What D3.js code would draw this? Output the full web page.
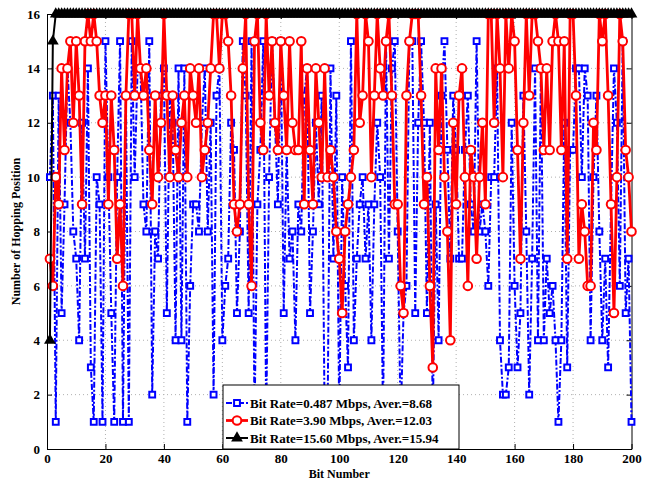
<!DOCTYPE html>
<html>
<head>
<meta charset="utf-8">
<script src="https://cdn.jsdelivr.net/npm/d3@7"></script>
<style>
	body { margin: 0; background: #fff; }
	text { font-family: "Liberation Serif", "Times New Roman", serif; font-weight: bold; }
</style>
</head>
<body>
<svg class="chart"></svg>
<script>

// hopping position per bit, 0.487 Mbps
var lowRate = [
	10, 13, 1, 13, 5, 9, 14, 12, 8, 7, 4, 12, 7, 14, 3, 1,
	10, 9, 1, 15, 10, 5, 1, 10, 15, 1, 13, 1, 15, 10, 14, 14, 9,
	8, 15, 2, 8, 7, 13, 14, 5, 13, 12, 4, 14, 4, 14, 1, 6, 9,
	9, 8, 12, 14, 8, 12, 2, 13, 14, 4, 6, 7, 12, 11, 5, 8, 15,
	13, 5, 15, 1, 9, 11, 15, 1, 10, 15, 12, 9, 15, 5, 11, 7, 8,
	4, 9, 8, 13, 14, 5, 8, 12, 9, 13, 1, 1, 14, 7, 13, 1, 10,
	6, 3, 15, 4, 7, 9, 10, 7, 9, 4, 9, 12, 10, 1, 15, 7, 14,
	15, 8, 1, 5, 6, 15, 15, 5, 12, 15, 12, 5, 12, 1, 9, 4, 13,
	15, 11, 7, 13, 11, 7, 7, 11, 13, 9, 8, 15, 8, 9, 8, 6, 10,
	10, 14, 4, 2, 2, 3, 12, 6, 3, 5, 13, 8, 2, 7, 14, 4, 14,
	4, 7, 5, 6, 4, 1, 4, 12, 3, 11, 11, 14, 14, 10, 14, 13, 4,
	10, 13, 8, 4, 7, 3, 9, 14, 12, 6, 15, 5, 7, 1
];

// 3.90 Mbps
var midRate = [
	7, 6, 10, 9, 14, 11, 14, 15, 12, 15, 13, 9, 15, 16, 15, 16,
	15, 13, 12, 13, 9, 13, 11, 7, 9, 6, 13, 16, 16, 13, 16, 14, 13,
	14, 11, 9, 13, 10, 12, 16, 13, 10, 13, 11, 10, 12, 13, 10, 14, 13,
	12, 14, 10, 11, 12, 14, 16, 16, 14, 16, 16, 15, 13, 9, 8, 9, 14,
	16, 9, 6, 15, 16, 12, 11, 16, 13, 15, 12, 11, 15, 13, 11, 15, 12,
	11, 11, 15, 9, 14, 11, 9, 14, 12, 10, 14, 10, 11, 10, 8, 7, 5,
	8, 9, 10, 11, 16, 12, 13, 16, 15, 10, 13, 16, 14, 13, 15, 16, 13,
	9, 9, 6, 5, 13, 15, 16, 16, 16, 13, 9, 10, 6, 3, 14, 11, 14,
	10, 8, 4, 12, 9, 13, 14, 10, 6, 11, 10, 7, 10, 12, 9, 16, 16,
	12, 16, 14, 10, 16, 14, 16, 15, 11, 7, 12, 16, 13, 16, 16, 15, 14,
	11, 14, 11, 15, 16, 15, 11, 15, 7, 16, 16, 13, 7, 9, 8, 6, 6,
	12, 11, 16, 15, 16, 13, 9, 5, 10, 16, 15, 11, 10, 8
];

// 15.60 Mbps
var highRate = [
	4, 15, 16, 16, 16, 16, 16, 16, 16, 16, 16, 16, 16, 16, 16, 16, 16, 16, 16, 16,
	16, 16, 16, 16, 16, 16, 16, 16, 16, 16, 16, 16, 16, 16, 16, 16, 16, 16, 16, 16,
	16, 16, 16, 16, 16, 16, 16, 16, 16, 16, 16, 16, 16, 16, 16, 16, 16, 16, 16, 16,
	16, 16, 16, 16, 16, 16, 16, 16, 16, 16, 16, 16, 16, 16, 16, 16, 16, 16, 16, 16,
	16, 16, 16, 16, 16, 16, 16, 16, 16, 16, 16, 16, 16, 16, 16, 16, 16, 16, 16, 16,
	16, 16, 16, 16, 16, 16, 16, 16, 16, 16, 16, 16, 16, 16, 16, 16, 16, 16, 16, 16,
	16, 16, 16, 16, 16, 16, 16, 16, 16, 16, 16, 16, 16, 16, 16, 16, 16, 16, 16, 16,
	16, 16, 16, 16, 16, 16, 16, 16, 16, 16, 16, 16, 16, 16, 16, 16, 16, 16, 16, 16,
	16, 16, 16, 16, 16, 16, 16, 16, 16, 16, 16, 16, 16, 16, 16, 16, 16, 16, 16, 16,
	16, 16, 16, 16, 16, 16, 16, 16, 16, 16, 16, 16, 16, 16, 16, 16, 16, 16, 16, 16
];

var xTicks = [0, 20, 40, 60, 80, 100, 120, 140, 160, 180, 200];
var yTicks = [0, 2, 4, 6, 8, 10, 12, 14, 16];
var legendLabels = [
	"Bit Rate=0.487 Mbps, Aver.=8.68",
	"Bit Rate=3.90 Mbps, Aver.=12.03",
	"Bit Rate=15.60 Mbps, Aver.=15.94"
];

var width = 656;
var height = 479;
var plotLeft = 47, plotRight = 631.5, plotTop = 14, plotBottom = 449;

var svg = d3.select('.chart').attr("width", width).attr("height", height);

var x = d3.scaleLinear().domain([0, 200]).range([plotLeft, plotRight]);
var y = d3.scaleLinear().domain([0, 16]).range([plotBottom, plotTop]);

function toPoints(values) {
	return values.map(function(v, i) { return [i + 1, v]; });
}

// dotted grid
svg.append("g").selectAll("line")
	.data(xTicks.slice(1, -1))
	.enter().append("line")
	.attr("x1", function(d) { return x(d); }).attr("x2", function(d) { return x(d); })
	.attr("y1", plotTop).attr("y2", plotBottom)
	.attr("stroke", "#b0b0b0").attr("stroke-dasharray", "1,3");

svg.append("g").selectAll("line")
	.data(yTicks.slice(1, -1))
	.enter().append("line")
	.attr("y1", function(d) { return y(d); }).attr("y2", function(d) { return y(d); })
	.attr("x1", plotLeft).attr("x2", plotRight)
	.attr("stroke", "#b0b0b0").attr("stroke-dasharray", "1,3");

// axes, MATLAB style ticks inside
function buildAxes() {
	var bx = svg.append("g").attr("transform", "translate(0," + plotBottom + ")")
		.call(d3.axisBottom(x).tickValues(xTicks).tickSizeInner(-5).tickSizeOuter(0).tickPadding(5));
	var tx = svg.append("g").attr("transform", "translate(0," + plotTop + ")")
		.call(d3.axisTop(x).tickValues(xTicks).tickSizeInner(-5).tickSizeOuter(0).tickFormat(""));
	var ly = svg.append("g").attr("transform", "translate(" + plotLeft + ",0)")
		.call(d3.axisLeft(y).tickValues(yTicks).tickSizeInner(-5).tickSizeOuter(0).tickPadding(7));
	var ry = svg.append("g").attr("transform", "translate(" + plotRight + ",0)")
		.call(d3.axisRight(y).tickValues(yTicks).tickSizeInner(-5).tickSizeOuter(0).tickFormat(""));

	[bx, tx, ly, ry].forEach(function(g) {
		g.selectAll("path").attr("stroke", "#000").attr("stroke-width", 1);
		g.selectAll("line").attr("stroke", "#000");
		g.selectAll("text").attr("fill", "#000").style("font-size", "13px")
			.style("font-family", "'Liberation Serif', serif").style("font-weight", "bold");
	});

	svg.append("text")
		.attr("x", (plotLeft + plotRight) / 2).attr("y", 477.5)
		.style("text-anchor", "middle").style("font-size", "12px")
		.text("Bit Number");

	svg.append("text")
		.attr("transform", "translate(20," + ((plotTop + plotBottom) / 2) + ") rotate(-90)")
		.style("text-anchor", "middle").style("font-size", "12px")
		.text("Number of Hopping Position");
}

buildAxes();

var line = d3.line()
	.x(function(d) { return x(d[0]); })
	.y(function(d) { return y(d[1]); });

var square = d3.symbol().type(d3.symbolSquare).size(34);
var triangle = d3.symbol().type(d3.symbolTriangle).size(60);

// 0.487 Mbps, blue dash-dot with squares
svg.append("path")
	.datum(toPoints(lowRate))
	.attr("d", line)
	.attr("fill", "none").attr("stroke", "#0000ff").attr("stroke-width", 2)
	.attr("stroke-dasharray", "6,2,2,2");

svg.append("g").selectAll("path")
	.data(toPoints(lowRate))
	.enter().append("path")
	.attr("d", square)
	.attr("transform", function(d) { return "translate(" + x(d[0]) + "," + y(d[1]) + ")"; })
	.attr("fill", "#fff").attr("stroke", "#0000ff").attr("stroke-width", 2);

// 3.90 Mbps, red solid with circles
svg.append("path")
	.datum(toPoints(midRate))
	.attr("d", line)
	.attr("fill", "none").attr("stroke", "#ff0000").attr("stroke-width", 2.8);

svg.append("g").selectAll("circle")
	.data(toPoints(midRate))
	.enter().append("circle")
	.attr("r", 4.3)
	.attr("cx", function(d) { return x(d[0]); })
	.attr("cy", function(d) { return y(d[1]); })
	.attr("fill", "#fff").attr("stroke", "#ff0000").attr("stroke-width", 2);

// 15.60 Mbps, black with triangles
svg.append("path")
	.datum(toPoints(highRate))
	.attr("d", line)
	.attr("fill", "none").attr("stroke", "#000").attr("stroke-width", 2);

svg.append("g").selectAll("path")
	.data(toPoints(highRate))
	.enter().append("path")
	.attr("d", triangle)
	.attr("transform", function(d) { return "translate(" + x(d[0]) + "," + y(d[1]) + ")"; })
	.attr("fill", "#000");

// legend
var legendTop = 385;
var legend = svg.append("g").attr("transform", "translate(223," + legendTop + ")");
legend.append("rect")
	.attr("width", 236).attr("height", plotBottom - legendTop)
	.attr("fill", "#fff").attr("stroke", "#000").attr("stroke-width", 1);

var colors = ["#0000ff", "#ff0000", "#000"];
legendLabels.forEach(function(label, i) {
	var rowY = 18 + i * 17.5;
	var row = legend.append("g");
	row.append("line")
		.attr("x1", 3).attr("x2", 25).attr("y1", rowY).attr("y2", rowY)
		.attr("stroke", colors[i]).attr("stroke-width", i == 1 ? 2.8 : 2)
		.attr("stroke-dasharray", i == 0 ? "6,2,2,2" : null);
	if (i == 0) {
		row.append("path").attr("d", square).attr("transform", "translate(14," + rowY + ")")
			.attr("fill", "#fff").attr("stroke", colors[i]).attr("stroke-width", 2);
	} else if (i == 1) {
		row.append("circle").attr("cx", 14).attr("cy", rowY).attr("r", 4.3)
			.attr("fill", "#fff").attr("stroke", colors[i]).attr("stroke-width", 2);
	} else {
		row.append("path").attr("d", triangle).attr("transform", "translate(14," + rowY + ")")
			.attr("fill", "#000");
	}
	row.append("text")
		.attr("x", 27).attr("y", rowY + 4.5)
		.style("font-size", "13px")
		.text(label);
});

</script>
</body>
</html>
